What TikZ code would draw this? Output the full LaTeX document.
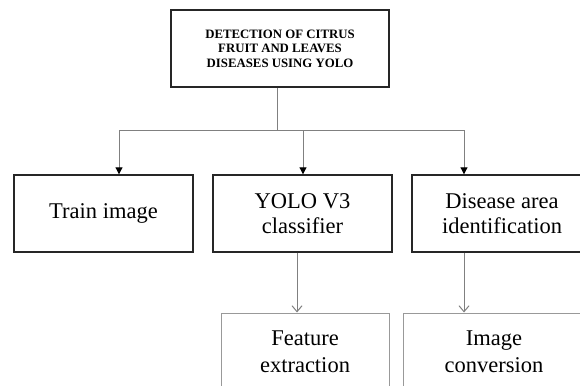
\documentclass[tikz,border=0pt]{standalone}
\usepackage{fontspec}
\setmainfont{Liberation Serif}
\usetikzlibrary{arrows.meta}
\begin{document}
\begin{tikzpicture}[x=1pt,y=1pt,
  topbox/.style={draw=black!85, line width=1.4pt, align=center, inner sep=0pt,
    font=\fontsize{12.8}{14.5}\selectfont\bfseries},
  mainbox/.style={draw=black!85, line width=1.4pt, align=center, inner sep=0pt,
    minimum height=77, font=\fontsize{22.5}{24.5}\selectfont},
  subbox/.style={draw=black!40, line width=1pt, align=center, inner sep=0pt,
    minimum height=77, font=\fontsize{22.5}{27}\selectfont},
  conn/.style={draw=black!50, line width=1pt},
  solidarr/.style={conn, -{Triangle[length=7pt,width=7pt,color=black]}},
  openarr/.style={conn, -{Straight Barb[length=6pt,width=10pt]}}]
\useasboundingbox (0,0) rectangle (580,-385);
\fill[white] (0,0) rectangle (580,-385);

\node[topbox, minimum width=218, minimum height=77] (top) at (280,-48.5)
  {DETECTION OF CITRUS\\FRUIT AND LEAVES\\DISEASES USING YOLO};

\node[mainbox, minimum width=179] (b1) at (103.5,-213.5) {Train image};
\node[mainbox, minimum width=179] (b2) at (302.5,-213.5) {YOLO V3\\classifier};
\node[mainbox, minimum width=180] (b3) at (502,-213.5) {Disease area\\identification};

\node[subbox, minimum width=168] (b4) at (305,-351.5) {Feature\\extraction};
\node[subbox, minimum width=182] (b5) at (494,-351.5) {Image\\conversion};

\coordinate (j) at (277,-130);
\coordinate (jl) at (119,-130);
\coordinate (jm) at (303,-130);
\coordinate (jr) at (464,-130);
\draw[conn] (top.south -| j) -- (j);
\draw[conn] (jl) -- (jr);
\draw[solidarr] (jl) -- (jl |- b1.north);
\draw[solidarr] (jm) -- (jm |- b2.north);
\draw[solidarr] (jr) -- (jr |- b3.north);

\coordinate (k4) at (297,0);
\coordinate (k5) at (464,0);
\draw[openarr] (b2.south -| k4) -- (b4.north -| k4);
\draw[openarr] (b3.south -| k5) -- (b5.north -| k5);
\end{tikzpicture}
\end{document}
